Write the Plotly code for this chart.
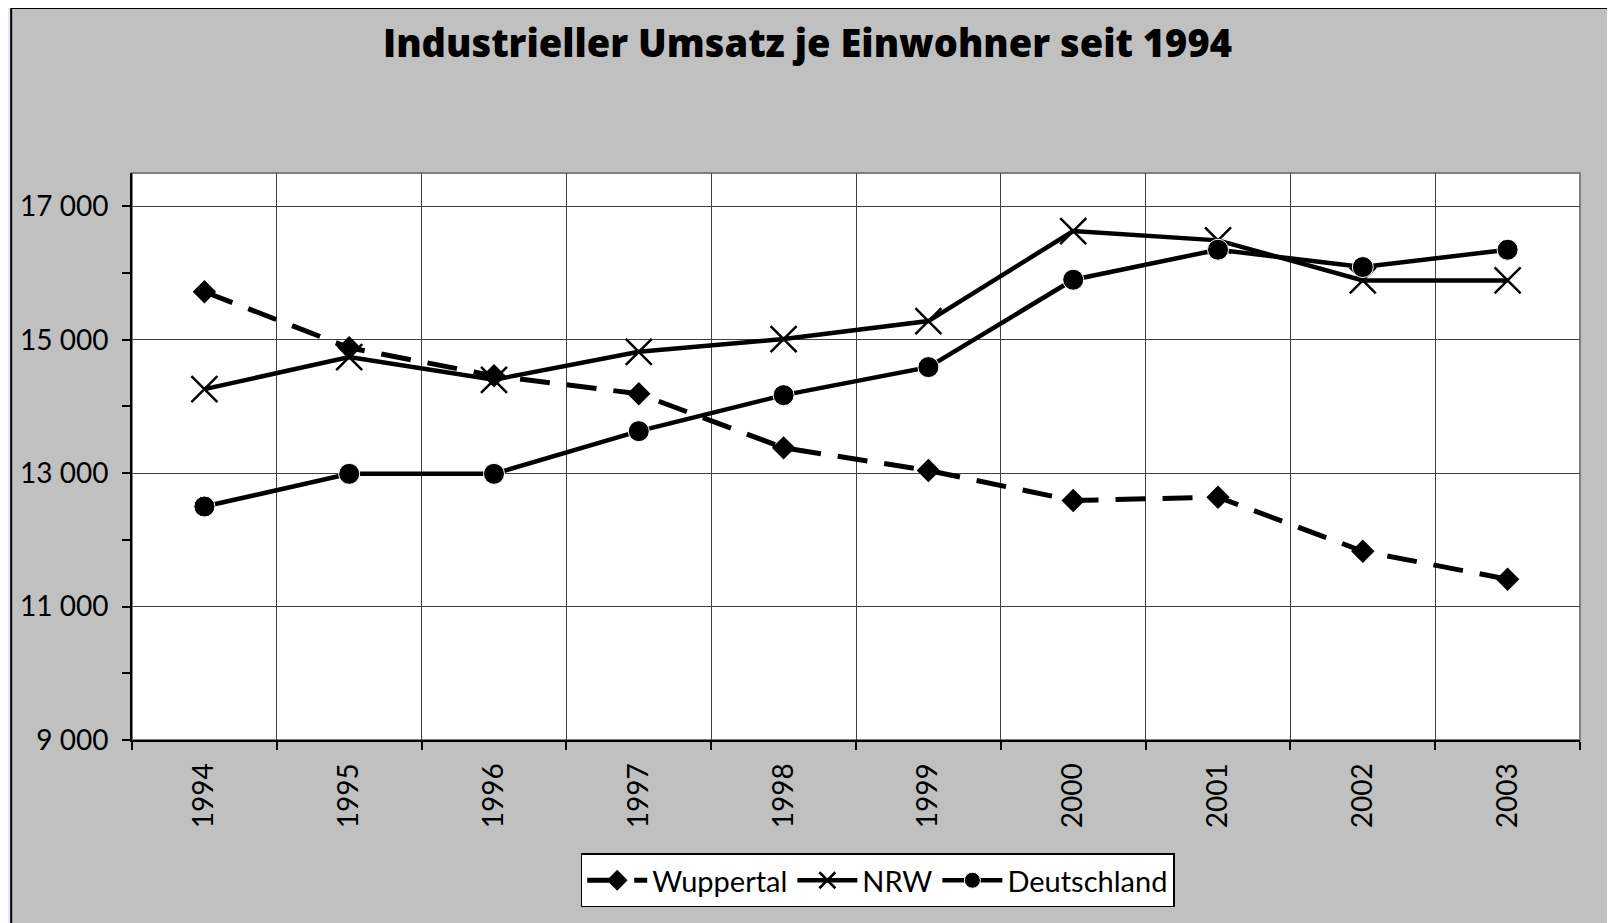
import plotly.graph_objects as go

# Daten (Umsatz je Einwohner)
jahre = [1994, 1995, 1996, 1997, 1998, 1999, 2000, 2001, 2002, 2003]
wuppertal = [15720, 14880, 14460, 14190, 13380, 13040, 12590, 12640, 11830, 11410]
nrw = [14260, 14740, 14400, 14820, 15010, 15280, 16630, 16490, 15890, 15890]
deutschland = [12500, 12990, 12990, 13630, 14170, 14590, 15900, 16350, 16090, 16350]

y_ticks = [9000, 11000, 13000, 15000, 17000]
y_labels = ["9 000", "11 000", "13 000", "15 000", "17 000"]

FONT = "Lato"

fig = go.Figure()

fig.add_trace(go.Scatter(
    x=jahre, y=wuppertal, name="Wuppertal", mode="lines+markers",
    line=dict(color="black", width=5, dash="30px,17px"),
    marker=dict(symbol="diamond", size=18, color="black"),
))
fig.add_trace(go.Scatter(
    x=jahre, y=nrw, name="NRW", mode="lines+markers",
    line=dict(color="black", width=4.5),
    marker=dict(symbol="x-thin-open", size=26, color="black",
                line=dict(color="black", width=2.5)),
))
fig.add_trace(go.Scatter(
    x=jahre, y=deutschland, name="Deutschland", mode="lines+markers",
    line=dict(color="black", width=4.5),
    marker=dict(symbol="circle", size=21, color="black",
                line=dict(color="white", width=1)),
))

# Seite hat 8px Body-Rand -> Raender entsprechend verschoben
L, R, T, B = 122, 43, 165, 191
pw, ph = 1615 - L - R, 923 - T - B

# grauer Diagrammbereich mit Rahmen
fig.add_shape(type="rect", xref="paper", yref="paper",
              x0=(1 - L) / pw, x1=1.2, y0=-0.5, y1=(ph + T) / ph,
              fillcolor="#c0c0c0", line=dict(color="black", width=2), layer="below")
# weisser Plotbereich
fig.add_shape(type="rect", xref="paper", yref="paper", x0=0, x1=1, y0=0, y1=1,
              fillcolor="white", line=dict(color="#808080", width=2), layer="below")

fig.update_layout(
    width=1615, height=923,
    paper_bgcolor="#dfe8f8",
    plot_bgcolor="rgba(0,0,0,0)",
    margin=dict(l=L, r=R, t=T, b=B),
    font=dict(family=FONT, color="black", size=27),
    title=dict(text="Industrieller Umsatz je Einwohner seit 1994",
               x=0.495, xanchor="center", y=1 - 36 / 923, yanchor="middle",
               font=dict(family="Open Sans", size=38, color="black", weight=800)),
    showlegend=True,
    legend=dict(orientation="h", x=0.515, xanchor="center", y=-0.2, yanchor="top",
                bgcolor="white", bordercolor="black", borderwidth=1.5,
                font=dict(family=FONT, size=29, color="black"),
                itemwidth=60, tracegroupgap=0),
    xaxis=dict(
        range=[1993.5, 2003.5],
        tickmode="array", tickvals=jahre, ticktext=[str(j) for j in jahre],
        tickangle=-90, showgrid=False, ticks="", zeroline=False,
        showline=True, linecolor="black", linewidth=2,
        ticklabelstandoff=10,
        tickfont=dict(family=FONT, size=28),
        minor=dict(tickmode="linear", tick0=1993.5, dtick=1, showgrid=True,
                   gridcolor="#404040", gridwidth=1, ticks="outside",
                   ticklen=8, tickcolor="black", tickwidth=1.5),
    ),
    yaxis=dict(
        range=[9000, 17500],
        tickmode="array", tickvals=y_ticks, ticktext=y_labels,
        showgrid=True, gridcolor="#404040", gridwidth=1, zeroline=False,
        showline=True, linecolor="black", linewidth=2,
        ticks="outside", ticklen=8, tickcolor="black", tickwidth=1.5,
        ticklabelstandoff=8,
        tickfont=dict(family=FONT, size=28),
        minor=dict(tickmode="linear", tick0=10000, dtick=2000, ticks="outside",
                   ticklen=8, tickcolor="black", tickwidth=1.5, showgrid=False),
    ),
)

fig.write_html("out.html")
